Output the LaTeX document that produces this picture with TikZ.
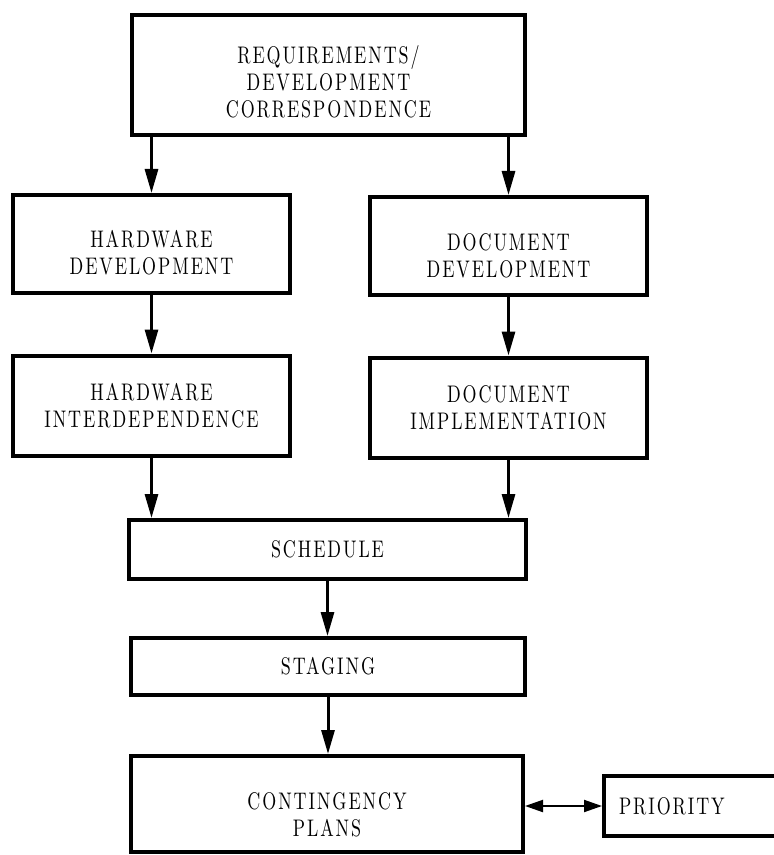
\documentclass[tikz,border=0pt]{standalone}
\usepackage{fontspec}
\usetikzlibrary{arrows.meta}
\newfontfamily\chartfamily{lmroman10-regular.otf}[FakeStretch=0.75,LetterSpace=8]
\newcommand*{\chartfont}{\chartfamily\fontsize{12}{13.5}\selectfont}

\begin{document}
\begin{tikzpicture}[x=0.5pt,y=-0.5pt,
    block/.style={draw, line width=2pt, inner sep=0pt, align=center, font=\chartfont},
    words/.style={font=\chartfont, align=center, inner sep=0pt},
    flow/.style={line width=1.5pt, -{Triangle[length=12pt,width=6.5pt]}},
    both/.style={line width=1pt, {Triangle[length=9pt,width=6pt]}-{Triangle[length=9pt,width=6pt]}}]
    \useasboundingbox (0,0) rectangle (774,855);
    \node[block, minimum width=196.5pt, minimum height=60pt,
        label={[words, yshift=-3.5pt]center:REQUIREMENTS/\\DEVELOPMENT\\CORRESPONDENCE}] (req) at (328.5,75) {};
    \node[block, minimum width=138.5pt, minimum height=49pt,
        label={[words, yshift=-4.5pt]center:HARDWARE\\DEVELOPMENT}] (hwdev) at (151.5,244) {};
    \node[block, minimum width=138.5pt, minimum height=49pt,
        label={[words, yshift=-5pt]center:DOCUMENT\\DEVELOPMENT}] (docdev) at (508.5,246) {};
    \node[block, minimum width=138.5pt, minimum height=50pt] (hwint) at (151.5,405.5) {HARDWARE\\INTERDEPENDENCE};
    \node[block, minimum width=138.5pt, minimum height=50pt] (docimp) at (508.5,407.5) {DOCUMENT\\IMPLEMENTATION};
    \node[block, minimum width=198.5pt, minimum height=29.5pt] (sched) at (327.5,549.5) {SCHEDULE};
    \node[block, minimum width=197pt, minimum height=28.5pt] (stage) at (328,666.5) {STAGING};
    \node[block, minimum width=196pt, minimum height=48pt,
        label={[words, yshift=-5.5pt]center:CONTINGENCY\\PLANS}] (plans) at (327,804) {};
    \node[block, anchor=west, minimum height=30pt, text width=90pt, inner xsep=7.5pt, align=left] (prio) at (602,806) {PRIORITY};
    \draw[flow] (req.south -| hwdev) -- (hwdev.north);
    \draw[flow] (req.south -| docdev) -- (docdev.north);
    \draw[flow] (hwdev) -- (hwint);
    \draw[flow] (docdev) -- (docimp);
    \draw[flow] (hwint.south) -- (hwint.south |- sched.north);
    \draw[flow] (docimp.south) -- (docimp.south |- sched.north);
    \draw[flow] (sched.south) -- (sched.south |- stage.north);
    \draw[flow] (stage.south) -- (stage.south |- plans.north);
    \draw[both] (plans.east |- prio) -- (prio.west);
\end{tikzpicture}
\end{document}
